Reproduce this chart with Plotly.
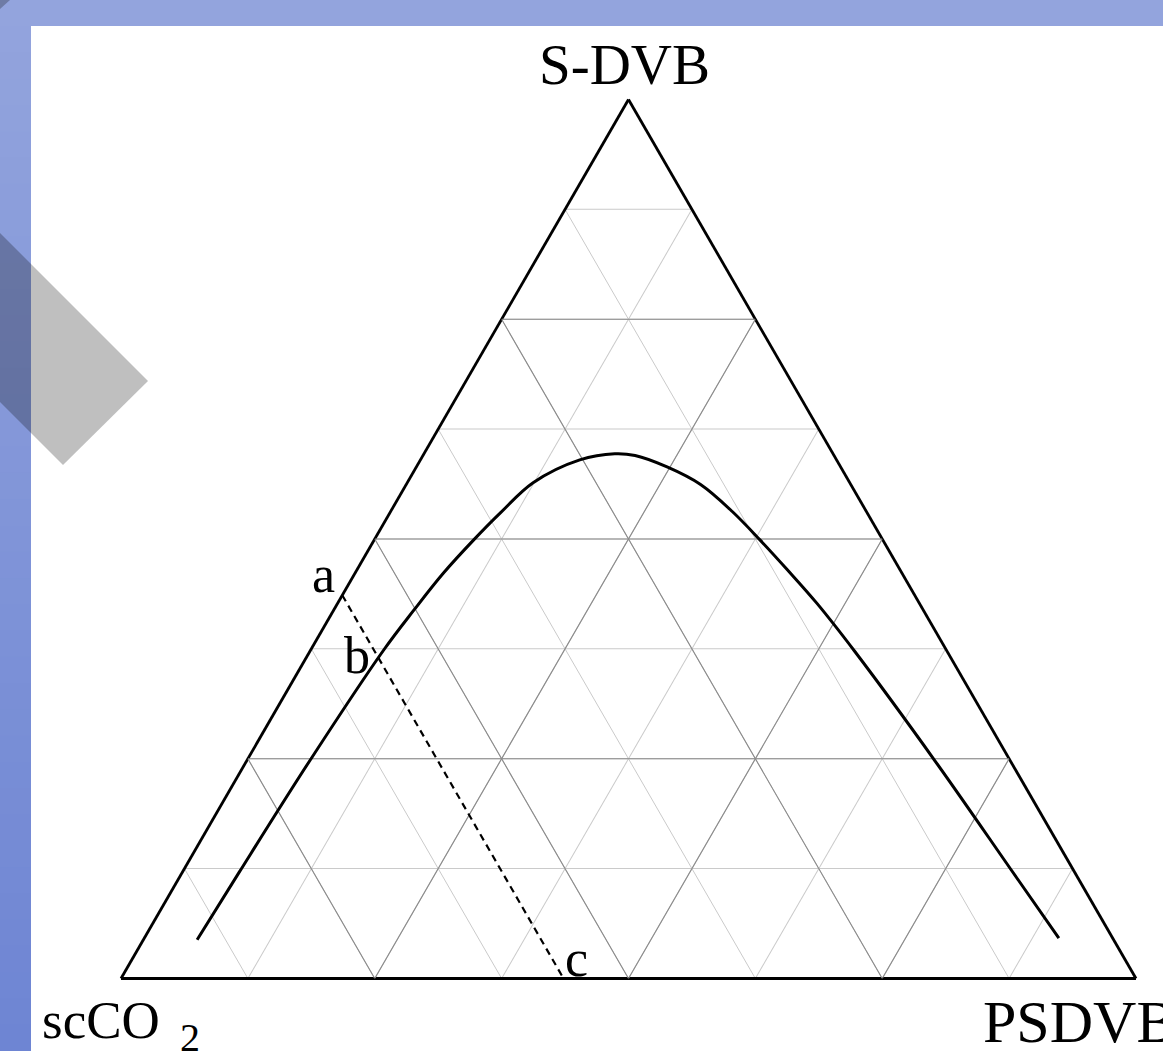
import plotly.graph_objects as go

W, H = 1163, 1051

SERIF = "Liberation Serif, Times New Roman, serif"
MINOR_GRID = "#cacaca"
MAJOR_GRID = "#8a8a8a"

binodal_sdvb = [0.044, 0.121, 0.246, 0.374, 0.419, 0.461, 0.499, 0.530, 0.564, 0.590, 0.597,
                0.595, 0.582, 0.562, 0.531, 0.499, 0.465, 0.427, 0.372, 0.246, 0.122, 0.046]
binodal_psdvb = [0.053, 0.056, 0.062, 0.072, 0.079, 0.087, 0.098, 0.109, 0.124, 0.157, 0.188,
                 0.209, 0.247, 0.290, 0.337, 0.380, 0.424, 0.472, 0.537, 0.680, 0.817, 0.901]
binodal_scco2 = [round(1 - s - p, 3) for s, p in zip(binodal_sdvb, binodal_psdvb)]

# dashed line a -> c (constant scCO2)
tie_sdvb = [0.436, 0.0]
tie_psdvb = [0.0, 0.436]
tie_scco2 = [0.564, 0.564]

major_ticks = [0.25, 0.5, 0.75]
minor_step = 0.125


def px(x):
    return x / W


def py(y):
    return 1 - y / H


fig = go.Figure()

# darker major grid lines on top of the light built-in grid
for k in major_ticks:
    for a, b, c in [
        ([k, k], [1 - k, 0], [0, 1 - k]),
        ([1 - k, 0], [k, k], [0, 1 - k]),
        ([1 - k, 0], [0, 1 - k], [k, k]),
    ]:
        fig.add_trace(go.Scatterternary(
            a=a, b=b, c=c, mode="lines",
            line=dict(color=MAJOR_GRID, width=1.1),
            hoverinfo="skip", showlegend=False,
        ))

fig.add_trace(go.Scatterternary(
    a=tie_sdvb, b=tie_scco2, c=tie_psdvb, mode="lines",
    line=dict(color="black", width=2.2, dash="7px,5px"),
    hoverinfo="skip", showlegend=False,
))

fig.add_trace(go.Scatterternary(
    a=binodal_sdvb, b=binodal_scco2, c=binodal_psdvb, mode="lines",
    line=dict(color="black", width=3, shape="spline", smoothing=1.0),
    hoverinfo="skip", showlegend=False,
))

TERN_AXIS = dict(
    showticklabels=False,
    ticks="",
    linecolor="black",
    linewidth=2.8,
    showgrid=True,
    gridcolor=MINOR_GRID,
    gridwidth=1,
    tick0=0,
    dtick=minor_step,
    min=0,
    layer="below traces",
    title=dict(text=""),
)

# page decoration: blue frame with a vertical gradient on the left strip
shapes = [dict(type="rect", xref="paper", yref="paper",
               x0=0, x1=1, y0=py(26), y1=1,
               fillcolor="#93a4dd", line=dict(width=0), layer="below")]
n_bands = 40
top_rgb = (147, 164, 221)
bot_rgb = (110, 133, 211)
for i in range(n_bands):
    t = i / (n_bands - 1)
    col = "rgb(%d,%d,%d)" % tuple(
        round(top_rgb[j] + (bot_rgb[j] - top_rgb[j]) * t) for j in range(3))
    shapes.append(dict(type="rect", xref="paper", yref="paper",
                       x0=0, x1=px(31),
                       y0=py(H * (i + 1) / n_bands + 1), y1=py(H * i / n_bands),
                       fillcolor=col, line=dict(width=0), layer="below"))

band = [(148, 381), (63, 465), (-237, 165), (-152, 81)]
shapes.append(dict(
    type="path", xref="paper", yref="paper",
    path="M " + " L ".join("%f,%f" % (px(x), py(y)) for x, y in band) + " Z",
    fillcolor="rgba(0,0,0,0.25)", line=dict(width=0), layer="below",
))
corner = [(0, 0), (10, 0), (0, 9)]
shapes.append(dict(
    type="path", xref="paper", yref="paper",
    path="M " + " L ".join("%f,%f" % (px(x), py(y)) for x, y in corner) + " Z",
    fillcolor="rgba(0,0,0,0.25)", line=dict(width=0), layer="below",
))


def label(text, x, y, size, xanchor="left"):
    return dict(
        text=text, x=px(x), y=py(y), xref="paper", yref="paper",
        xanchor=xanchor, yanchor="top", showarrow=False,
        font=dict(family=SERIF, size=size, color="black"),
    )


annotations = [
    label("S-DVB", 624, 31, 57, xanchor="center"),
    label("scCO", 40, 989, 53),
    label("2", 178, 1013, 40),
    label("PSDVB", 981, 987, 60),
    label("a", 310, 544, 52),
    label("b", 342, 625, 52),
    label("c", 563, 928, 52),
]

fig.update_layout(
    width=W,
    height=H,
    margin=dict(l=0, r=0, t=0, b=0),
    paper_bgcolor="white",
    plot_bgcolor="white",
    showlegend=False,
    ternary=dict(
        domain=dict(x=[0.54041 - 0.43637, 0.54041 + 0.43637],
                    y=[0.48716 - 0.41817, 0.48716 + 0.41817]),
        bgcolor="rgba(0,0,0,0)",
        sum=1,
        aaxis=TERN_AXIS,
        baxis=TERN_AXIS,
        caxis=TERN_AXIS,
    ),
    shapes=shapes,
    annotations=annotations,
)

fig.write_html(
    "out.html",
    config=dict(displayModeBar=False),
    post_script="document.body.style.margin='0';",
)
